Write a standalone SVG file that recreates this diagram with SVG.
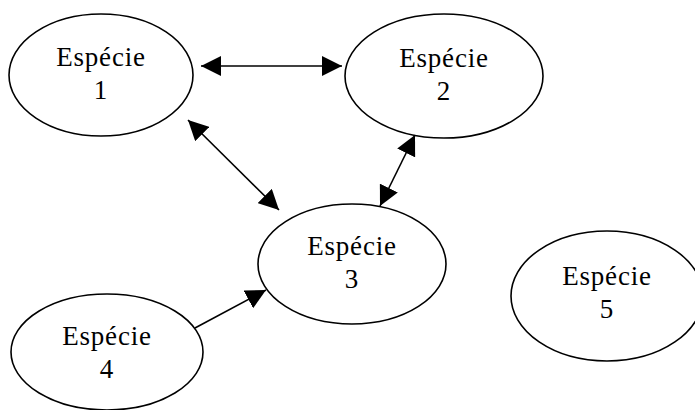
<svg xmlns="http://www.w3.org/2000/svg" width="695" height="410" viewBox="0 0 695 410">
<style>
.node ellipse{fill:#fff;stroke:#000;stroke-width:1.6}
.node text{font-family:"Liberation Serif","DejaVu Serif",serif;font-size:27px;fill:#000;text-anchor:middle;letter-spacing:0.8px}
.edge{stroke:#000;stroke-width:1.6;fill:none}
</style>
<defs>
<marker id="ah" viewBox="0 0 20 20" markerWidth="20" markerHeight="20" refX="20" refY="10" orient="auto-start-reverse" markerUnits="userSpaceOnUse">
<path d="M0,0 L20,10 L0,20 z" fill="#000"/>
</marker>
</defs>
<g id="node1" class="node">
<ellipse cx="101" cy="75" rx="92" ry="61"/>
<text x="101" y="66">Espécie</text>
<text x="101" y="99">1</text>
</g>
<g id="node2" class="node">
<ellipse cx="444" cy="76" rx="99" ry="62"/>
<text x="444" y="67">Espécie</text>
<text x="444" y="100">2</text>
</g>
<g id="node3" class="node">
<ellipse cx="352" cy="264" rx="94" ry="60"/>
<text x="352" y="255">Espécie</text>
<text x="352" y="288">3</text>
</g>
<g id="node4" class="node">
<ellipse cx="107" cy="352" rx="96" ry="58"/>
<text x="107" y="345">Espécie</text>
<text x="107" y="378">4</text>
</g>
<g id="node5" class="node">
<ellipse cx="607" cy="296" rx="96" ry="65"/>
<text x="607" y="285">Espécie</text>
<text x="607" y="318">5</text>
</g>
<g id="connectors">
<line class="edge" x1="201" y1="66" x2="342" y2="66" marker-start="url(#ah)" marker-end="url(#ah)"/>
<line class="edge" x1="188" y1="120" x2="279" y2="210" marker-start="url(#ah)" marker-end="url(#ah)"/>
<line class="edge" x1="415" y1="135" x2="380" y2="206" marker-start="url(#ah)" marker-end="url(#ah)"/>
<line class="edge" x1="195" y1="328" x2="266" y2="290" marker-end="url(#ah)"/>
</g>
</svg>
